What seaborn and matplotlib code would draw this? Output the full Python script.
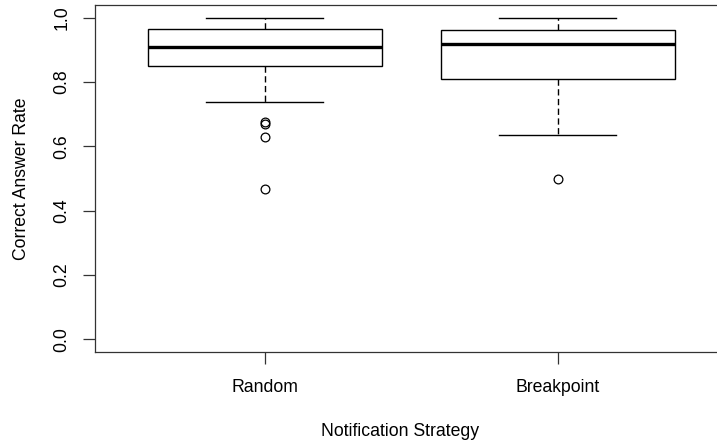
import matplotlib
matplotlib.use("Agg")
import matplotlib.pyplot as plt
import seaborn as sns
import pandas as pd

# Data
categories = ["Random", "Breakpoint"]
random_rates = [0.469, 0.629, 0.670, 0.675, 0.739,
                0.850, 0.850, 0.850, 0.850, 0.850,
                0.909, 0.909, 0.909, 0.909, 0.909,
                0.964, 0.964, 0.964, 0.964, 0.964, 1.0]
breakpoint_rates = [0.499, 0.635, 0.811, 0.811, 0.811,
                    0.811, 0.811, 0.811, 0.811, 0.811,
                    0.920, 0.920, 0.920, 0.920, 0.920,
                    0.961, 0.961, 0.961, 0.961, 0.961, 1.0]
y_ticks = [0.0, 0.2, 0.4, 0.6, 0.8, 1.0]
x_label = "Notification Strategy"
y_label = "Correct Answer Rate"

df = pd.DataFrame({
    "strategy": [categories[0]] * len(random_rates) + [categories[1]] * len(breakpoint_rates),
    "rate": random_rates + breakpoint_rates,
})

plt.rcParams["font.family"] = ["Liberation Sans", "DejaVu Sans"]
fs = 12.7

fig = plt.figure(figsize=(7.17, 4.44), dpi=100)
ax = fig.add_axes([95 / 717, 1 - 352.3 / 444, (727.5 - 95) / 717, (352.3 - 5) / 444])

sns.boxplot(
    data=df, x="strategy", y="rate", order=categories, ax=ax,
    color="white", linecolor="black", linewidth=1.0, width=0.8,
    whis=1.5, fill=True,
    boxprops=dict(edgecolor="black", facecolor="white", linewidth=1.0),
    medianprops=dict(color="black", linewidth=2.4),
    whiskerprops=dict(color="black", linewidth=1.0, linestyle=(0, (4.5, 2.5))),
    capprops=dict(color="black", linewidth=1.0),
    flierprops=dict(marker="o", markersize=6.3, markerfacecolor="none",
                    markeredgecolor="black", markeredgewidth=0.9),
)

ax.set_xlim(-0.58, 1.58)
ax.set_ylim(-0.04, 1.04)
ax.set_yticks(y_ticks)
ax.set_yticklabels([f"{t:.1f}" for t in y_ticks], rotation=90, va="center", fontsize=fs)
ax.set_xticks(range(len(categories)))
ax.set_xticklabels(categories, fontsize=fs)
ax.tick_params(axis="both", length=8.5, width=0.9, color="#333333")
ax.tick_params(axis="x", pad=11)
ax.tick_params(axis="y", pad=9)

for side in ["left", "bottom", "top", "right"]:
    ax.spines[side].set_color("#333333")
    ax.spines[side].set_linewidth(0.9)

ax.set_xlabel(x_label, fontsize=fs)
ax.set_ylabel(y_label, fontsize=fs)
ax.xaxis.label.set_va("center")
ax.yaxis.label.set_va("center")
ax.xaxis.set_label_coords((400 - 95) / 632.5, -(431.7 - 352.3) / 347.3)
ax.yaxis.set_label_coords((21.5 - 95) / 632.5, (352.3 - 179) / 347.3)

fig.savefig("out.png", dpi=100)
